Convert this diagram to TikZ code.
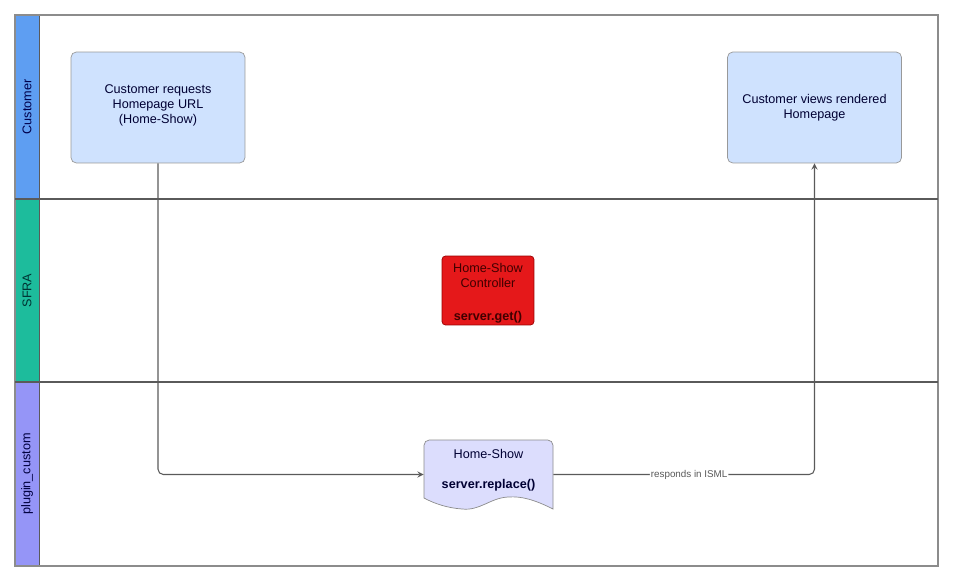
\documentclass[tikz,border=0pt]{standalone}
\usepackage{fontspec}
\setmainfont{Liberation Sans}
\usepackage{tikz}
\usetikzlibrary{shapes.geometric, arrows, positioning}
\definecolor{custblue}{HTML}{5E9EF2}
\definecolor{sfragreen}{HTML}{1DBC9C}
\definecolor{plugpurple}{HTML}{9595F7}
\definecolor{stepfill}{HTML}{CFE2FE}
\definecolor{ctrlred}{HTML}{E5181A}
\definecolor{docfill}{HTML}{DCDDFD}
\definecolor{linegray}{HTML}{5A5A5A}
\tikzstyle{header} = [rectangle, rotate=90, minimum height=0.48cm, text centered, draw=linegray, font=\fontsize{7.2}{8.6}\selectfont]
\tikzstyle{stepbox} = [rectangle, rounded corners=3pt, minimum width=3.48cm, minimum height=2.22cm, align=center, fill=stepfill, draw=black!40, text=black!80!blue, font=\fontsize{7.2}{8.6}\selectfont]
\tikzstyle{ctrl} = [rectangle, rounded corners=2pt, minimum width=1.84cm, minimum height=1.38cm, inner ysep=0pt, align=center, fill=ctrlred, draw=red!60!black, text=red!25!black, font=\fontsize{7.2}{8.6}\selectfont]
\tikzstyle{doc} = [rectangle, minimum width=2.58cm, minimum height=1.38cm, align=center, text=black!80!blue, font=\fontsize{7.2}{8.6}\selectfont]
\tikzstyle{docshape} = [fill=docfill, draw=black!45]
\tikzstyle{lane} = [draw=linegray, line width=0.6pt]
\tikzstyle{arrow} = [->,>=stealth, draw=linegray, line width=0.6pt, rounded corners=3pt]
\tikzstyle{tag} = [fill=white, inner sep=0.6pt, text=black!65, font=\fontsize{5.6}{6}\selectfont]

\begin{document}
\begin{tikzpicture}[x=0.02cm, y=-0.02cm]
        \useasboundingbox (0,0) rectangle (960,587);
        \node[header, fill=custblue, minimum width=3.68cm, text=blue!30!black](custlane) at (27,107){Customer};
        \node[header, fill=sfragreen, minimum width=3.66cm, text=teal!40!black](sfralane) at (27,290.5){SFRA};
        \node[header, fill=plugpurple, minimum width=3.68cm, text=blue!25!black](pluglane) at (27,474){plugin\_custom};
        \draw[lane, draw=black!45] (15,15) rectangle (938,566);
        \draw[lane] (15,199) -- (938,199);
        \draw[lane] (15,382) -- (938,382);

        \node[stepbox](request) at (158,107.5){Customer requests\\Homepage URL\\(Home-Show)\rule[-3.7pt]{0pt}{3.7pt}};
        \node[stepbox](view) at (814.5,107.5){Customer views rendered\\Homepage};
        \node[ctrl](controller) at (488,290.5){\rule{0pt}{8.6pt}Home-Show\\Controller\\[10pt]\textbf{server.get()}};

        \filldraw[docshape] (553,509) .. controls (535,500) and (522,496) .. (508,497) .. controls (490,498) and (480,511) .. (462,509) .. controls (448,508) and (435,504) .. (424,498) [rounded corners=3pt] -- (424,440) -- (553,440) -- (553,470) [sharp corners] -- cycle;
        \node[doc](replace) at (488.5,474.5){\raisebox{2.3pt}[\height][\depth]{\begin{tabular}{@{}c@{}}Home-Show\\[8pt]\textbf{server.replace()}\end{tabular}}};

        \draw [arrow] (request) |- (replace);
        \draw [arrow] (replace) -| node[tag, pos=0.26]{responds in ISML} (view);
    \end{tikzpicture}
\end{document}
